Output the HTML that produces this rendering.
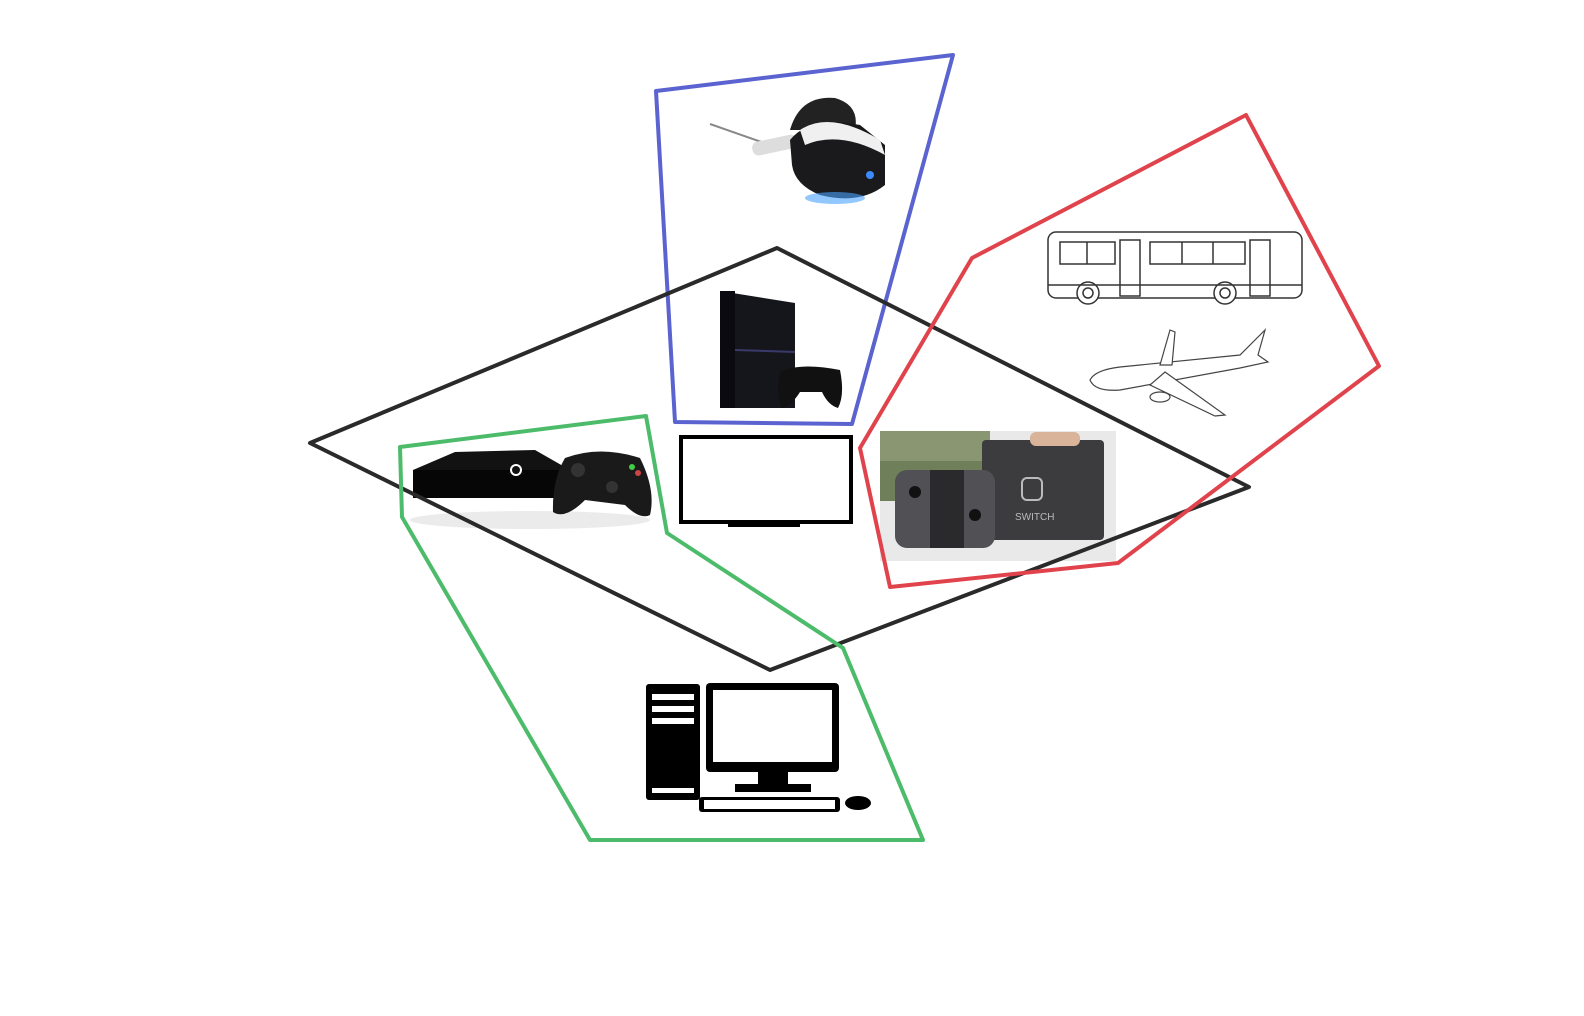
<!DOCTYPE html>
<html><head><meta charset="utf-8"><style>
html,body{margin:0;padding:0;background:#fff;width:1584px;height:1016px;overflow:hidden}
</style></head><body>
<svg width="1584" height="1016" viewBox="0 0 1584 1016" xmlns="http://www.w3.org/2000/svg">
<rect width="1584" height="1016" fill="#fff"/>
<!-- Switch image -->
<rect x="880" y="431" width="236" height="130" fill="#e9e9e9"/>
<rect x="880" y="431" width="110" height="70" fill="#6f7f5a"/>
<rect x="880" y="431" width="110" height="30" fill="#8a9672"/>
<rect x="982" y="440" width="122" height="100" rx="4" fill="#3c3c3e"/>
<rect x="1030" y="432" width="50" height="14" rx="6" fill="#d9b39a"/>
<text x="1015" y="520" font-family="Liberation Sans,sans-serif" font-size="10" fill="#bbb">SWITCH</text>
<rect x="1022" y="478" width="20" height="22" rx="5" fill="none" stroke="#bbb" stroke-width="2"/>
<rect x="895" y="470" width="100" height="78" rx="12" fill="#505055"/>
<rect x="930" y="470" width="34" height="78" fill="#2a2a2c"/>
<circle cx="915" cy="492" r="6" fill="#111"/><circle cx="975" cy="515" r="6" fill="#111"/>
<!-- PS VR -->
<line x1="710" y1="124" x2="770" y2="145" stroke="#888" stroke-width="2"/>
<rect x="752" y="138" width="45" height="14" rx="6" fill="#ddd" transform="rotate(-12 775 145)"/>
<path d="M790 130 Q800 95 835 98 Q860 105 855 130 Z" fill="#222"/>
<path d="M790 140 Q810 115 860 125 L885 145 L885 185 Q860 205 820 195 Q795 185 792 165 Z" fill="#1a1a1c"/>
<path d="M800 130 Q830 110 880 140 L885 155 Q840 130 805 145 Z" fill="#f0f0f0"/>
<ellipse cx="835" cy="198" rx="30" ry="6" fill="#4aa3ff" opacity=".6"/>
<circle cx="870" cy="175" r="4" fill="#3b8bff"/>
<!-- PS4 -->
<path d="M720 291 L795 303 L795 408 L720 408 Z" fill="#15151c"/>
<path d="M720 291 L735 291 L735 408 L720 408 Z" fill="#0a0a10"/>
<line x1="735" y1="350" x2="795" y2="352" stroke="#3a3a6a" stroke-width="2"/>
<path d="M780 372 Q800 362 840 370 Q845 395 838 408 Q828 405 822 392 L800 392 Q792 405 782 408 Q776 390 780 372 Z" fill="#111"/>
<!-- Xbox -->
<path d="M413 470 L455 452 L535 450 L570 470 L560 498 L415 497 Z" fill="#121212"/>
<rect x="413" y="470" width="150" height="28" fill="#060606"/>
<circle cx="516" cy="470" r="6" fill="#fff"/><circle cx="516" cy="470" r="4" fill="#111"/>
<ellipse cx="530" cy="520" rx="120" ry="9" fill="#ddd" opacity=".6"/>
<path d="M565 458 Q600 445 640 458 Q656 490 650 515 Q640 520 625 505 L585 500 Q565 520 553 512 Q552 480 565 458 Z" fill="#1a1a1a"/>
<circle cx="578" cy="470" r="7" fill="#333"/><circle cx="612" cy="487" r="6" fill="#333"/>
<circle cx="632" cy="467" r="3" fill="#4c4"/><circle cx="638" cy="473" r="3" fill="#c44"/>
<!-- Bus -->
<g fill="none" stroke="#333" stroke-width="1.5">
<rect x="1048" y="232" width="254" height="66" rx="8"/>
<rect x="1060" y="242" width="55" height="22"/>
<rect x="1150" y="242" width="95" height="22"/>
<rect x="1120" y="240" width="20" height="56"/>
<rect x="1250" y="240" width="20" height="56"/>
<line x1="1087" y1="242" x2="1087" y2="264"/><line x1="1182" y1="242" x2="1182" y2="264"/><line x1="1213" y1="242" x2="1213" y2="264"/>
<circle cx="1088" cy="293" r="11" fill="#fff"/><circle cx="1088" cy="293" r="5"/>
<circle cx="1225" cy="293" r="11" fill="#fff"/><circle cx="1225" cy="293" r="5"/>
<line x1="1048" y1="285" x2="1302" y2="285"/>
</g>
<!-- Plane -->
<g fill="#fff" stroke="#444" stroke-width="1.2">
<path d="M1090 380 Q1095 370 1120 367 L1240 355 L1265 330 L1258 355 L1268 362 L1240 368 L1120 390 Q1095 392 1090 380 Z"/>
<path d="M1165 372 L1225 415 L1215 416 L1150 385 Z"/>
<path d="M1160 365 L1170 330 L1175 332 L1172 365 Z"/>
<ellipse cx="1160" cy="397" rx="10" ry="5"/>
</g>
<!-- PC -->
<rect x="646" y="684" width="54" height="116" rx="3" fill="#000"/>
<rect x="652" y="694" width="42" height="6" fill="#fff"/><rect x="652" y="706" width="42" height="6" fill="#fff"/><rect x="652" y="718" width="42" height="6" fill="#fff"/>
<rect x="652" y="788" width="42" height="5" fill="#fff"/>
<rect x="706" y="683" width="133" height="89" rx="4" fill="#000"/>
<rect x="713" y="690" width="119" height="72" fill="#fff"/>
<rect x="758" y="772" width="30" height="12" fill="#000"/>
<rect x="735" y="784" width="76" height="8" fill="#000"/>
<rect x="699" y="797" width="141" height="15" rx="3" fill="#000"/>
<rect x="704" y="800" width="131" height="9" fill="#fff"/>
<ellipse cx="858" cy="803" rx="13" ry="7" fill="#000"/>
<!-- TV -->
<rect x="681" y="437" width="170" height="85" fill="#fff" stroke="#000" stroke-width="4"/>
<rect x="728" y="522" width="72" height="5" fill="#000"/>
<!-- polygons -->
<g fill="none" stroke-width="4" stroke-linejoin="round">
<polygon points="656,91 953,55 852,424 675,422" stroke="#5a63cf"/>
<polygon points="310,443 777,248 1249,487 770,670" stroke="#2a2a2a"/>
<polygon points="972,258 1246,115 1379,366 1118,563 890,587 860,448" stroke="#e0434b"/>
<polygon points="400,447 646,416 667,533 843,648 923,840 590,840 402,517" stroke="#4cbb6a"/>
</g>
</svg>
</body></html>
